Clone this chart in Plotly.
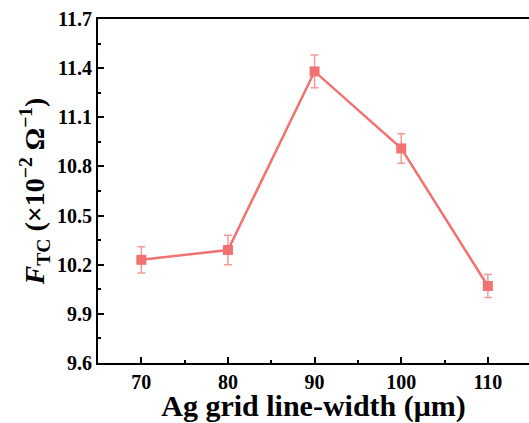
import plotly.graph_objects as go

widths = [70, 80, 90, 100, 110]
ftc = [10.23, 10.29, 11.38, 10.91, 10.07]
err = [0.08, 0.09, 0.10, 0.09, 0.07]
yticks = [9.6, 9.9, 10.2, 10.5, 10.8, 11.1, 11.4, 11.7]

font = "Liberation Serif, Times New Roman, serif"
color = "#F27272"

fig = go.Figure()
fig.add_trace(go.Scatter(
    x=widths, y=ftc, mode="lines+markers",
    line=dict(color=color, width=2.5),
    marker=dict(symbol="square", size=10, color=color),
    error_y=dict(type="data", array=err, color="#F59A9A", thickness=1.5, width=4),
    showlegend=False,
))

fig.update_layout(
    width=529, height=423,
    margin=dict(l=98, r=0, t=19, b=60),
    paper_bgcolor="white", plot_bgcolor="white",
    font=dict(family=font, color="black"),
    xaxis=dict(
        range=[65, 114.75], tickvals=widths, ticks="inside", ticklen=6, tickwidth=2,
        tickcolor="black", showline=True, linecolor="black", linewidth=2, mirror=True,
        showgrid=False, zeroline=False,
        tickfont=dict(size=20, family=font, weight="bold"),
        minor=dict(tickvals=[75, 85, 95, 105], ticks="inside", ticklen=3, tickwidth=2, tickcolor="black"),
        title=dict(text="<b>Ag grid line-width (μm)</b>", font=dict(size=30, family=font), standoff=0),
    ),
    yaxis=dict(
        range=[9.6, 11.7], tickvals=yticks, ticktext=[f"{v:.1f}" for v in yticks],
        ticks="inside", ticklen=6, tickwidth=2, tickcolor="black",
        showline=True, linecolor="black", linewidth=2, mirror=False,
        showgrid=False, zeroline=False,
        tickfont=dict(size=20, family=font, weight="bold"),
        minor=dict(tickvals=[9.75, 10.05, 10.35, 10.65, 10.95, 11.25, 11.55], ticks="inside", ticklen=3, tickwidth=2, tickcolor="black"),
        title=dict(text="<b><i>F</i><sub>TC</sub> (×10<sup>−2</sup> Ω<sup>−1</sup>)</b>", font=dict(size=28, family=font), standoff=4),
    ),
)

fig.write_html("out.html")
